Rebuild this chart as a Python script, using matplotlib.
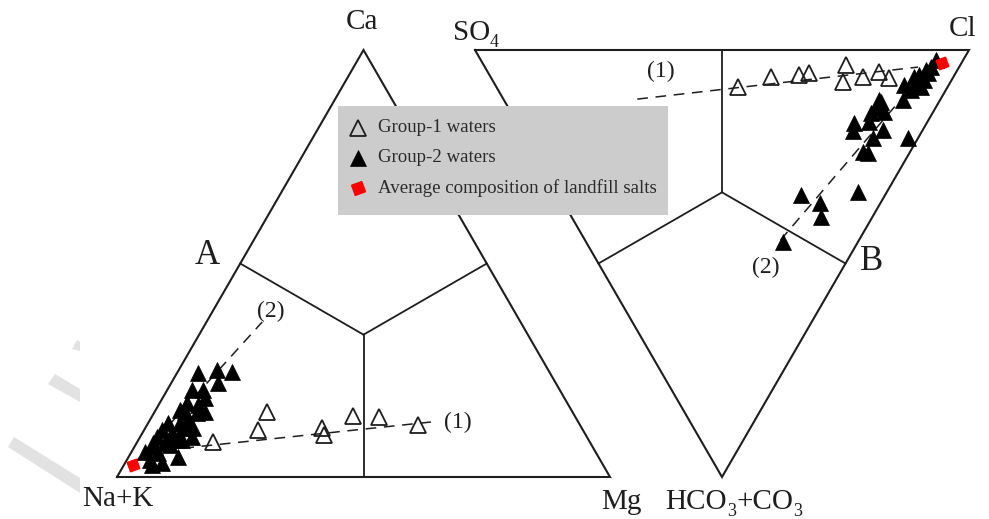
import matplotlib
matplotlib.use("Agg")
import matplotlib.pyplot as plt
from matplotlib.patches import Rectangle, Polygon

plt.rcParams['font.family'] = ['Liberation Serif', 'DejaVu Serif']

# ---------------- data (% meq/L) ----------------
# Cation triangle: Ca, Mg, Na+K
g1_cat_ca = [8.2, 15.2, 11.0, 11.5, 9.8, 14.3, 14.1, 12.2]
g1_cat_mg = [15.4, 22.8, 23.1, 35.8, 37.1, 40.7, 46.1, 55.0]
g1_cat_na = [76.4, 62.0, 65.9, 52.7, 53.1, 45.0, 39.8, 32.8]

g2_cat_ca = [24.4, 25.1, 24.6, 22.0, 20.4, 20.4, 18.5, 17.3, 16.9, 15.2, 15.0,
             12.6, 12.6, 11.5, 11.5, 9.4, 9.4, 11.0, 9.4, 8.0, 8.0, 8.7, 5.9,
             5.6, 4.0, 2.8, 3.3, 4.7, 8.7, 13.3, 10.3, 7.0, 7.5, 15.2, 15.7]
g2_cat_mg = [4.2, 7.7, 11.0, 9.5, 5.0, 7.2, 8.6, 5.5, 8.0, 6.2, 8.7,
             4.0, 6.5, 8.0, 9.7, 10.5, 7.7, 3.6, 3.4, 3.3, 5.7, 7.4, 2.7,
             5.5, 4.7, 5.7, 7.5, 10.0, 8.8, 7.8, 6.0, 4.2, 7.0, 10.2, 4.9]
g2_cat_na = [71.4, 67.2, 64.4, 68.5, 74.6, 72.4, 72.9, 77.2, 75.1, 78.6, 76.3,
             83.4, 80.9, 80.5, 78.8, 80.1, 82.9, 85.4, 87.2, 88.7, 86.3, 83.9, 91.4,
             88.9, 91.3, 91.5, 89.2, 85.3, 82.5, 78.9, 83.7, 88.8, 85.5, 74.6, 79.4]

salt_cat = {"Ca": 2.8, "Mg": 1.8, "Na+K": 95.4}

# Anion triangle: Cl, SO4, HCO3+CO3
g1_an_cl = [48.8, 56.7, 62.6, 64.9, 73.3, 70.7, 75.4, 79.1, 80.5]
g1_an_so4 = [42.5, 37.0, 31.5, 29.7, 23.2, 21.8, 18.3, 15.7, 12.9]
g1_an_hco3 = [8.7, 6.3, 5.9, 5.4, 3.5, 7.5, 6.3, 5.2, 6.6]

g2_an_cl = [92.2, 90.3, 88.9, 86.9, 87.4, 85.7, 85.4, 82.7, 83.5, 80.8, 75.9,
            74.3, 75.5, 72.7, 68.1, 67.0, 71.3, 70.2, 73.2, 77.3, 66.6, 67.5,
            48.9, 51.9, 50.4, 60.8, 39.8, 76.0, 89.0, 85.9]
g2_an_so4 = [5.5, 5.7, 6.4, 7.2, 5.6, 8.0, 6.9, 9.1, 7.1, 7.5, 12.4,
             12.1, 10.0, 12.5, 14.8, 14.0, 11.8, 9.2, 8.1, 2.1, 9.5, 8.4,
             17.1, 12.3, 10.5, 5.9, 15.2, 11.8, 5.6, 5.4]
g2_an_hco3 = [2.3, 4.0, 4.7, 5.9, 7.0, 6.3, 7.7, 8.2, 9.4, 11.7, 11.7,
              13.6, 14.5, 14.8, 17.1, 19.0, 16.9, 20.6, 18.7, 20.6, 23.9, 24.1,
              34.0, 35.8, 39.1, 33.3, 45.0, 12.2, 5.4, 8.7]

salt_an = {"Cl": 93.0, "SO4": 4.0, "HCO3+CO3": 3.0}

# Evolution trends (start, end) compositions
trend1_cat = {"Ca": [6.3, 12.9], "Mg": [6.6, 57.4]}
trend2_cat = {"Ca": [2.8, 36.3], "Mg": [1.8, 11.3]}
trend1_an = {"HCO3+CO3": [11.5, 4.0], "Cl": [27.1, 87.7]}
trend2_an = {"HCO3+CO3": [44.5, 2.8], "Cl": [39.6, 91.3]}

# ---------------- geometry (drawing coordinates) ----------------
V_NAK, V_MG, V_CA = (117.0, 477.0), (610.0, 477.0), (363.5, 50.0)
V_SO4, V_CL, V_HCO3 = (475.0, 50.0), (969.0, 50.0), (722.0, 477.0)


def ternary(a, b, c, va, vb, vc):
    xs, ys = [], []
    for p, q, r in zip(a, b, c):
        t = p + q + r
        xs.append((p * va[0] + q * vb[0] + r * vc[0]) / t)
        ys.append((p * va[1] + q * vb[1] + r * vc[1]) / t)
    return xs, ys


def cation_xy(ca, mg, na):
    return ternary(ca, mg, na, V_CA, V_MG, V_NAK)


def anion_xy(cl, so4, hco3):
    return ternary(cl, so4, hco3, V_CL, V_SO4, V_HCO3)


fig = plt.figure(figsize=(9.89, 5.19), dpi=100)
ax = fig.add_axes([0, 0, 1, 1])
ax.set_xlim(0, 989)
ax.set_ylim(519, 0)
ax.axis('off')
renderer = fig.canvas.get_renderer()

INK = '#1e1e1e'

# faint background stripes
for pts in [[(8, 447), (14, 437), (80, 478), (80, 493)],
            [(48, 384), (55, 374), (80, 389), (80, 402)],
            [(72, 349), (77, 340), (80, 342), (80, 351)]]:
    ax.add_patch(Polygon(pts, closed=True, facecolor='#e2e2e2',
                         edgecolor='none', zorder=0))


def draw_frame(v1, v2, v3):
    ax.plot([v1[0], v2[0], v3[0], v1[0]], [v1[1], v2[1], v3[1], v1[1]],
            color=INK, lw=1.5, zorder=1, solid_joinstyle='miter')
    cx = (v1[0] + v2[0] + v3[0]) / 3
    cy = (v1[1] + v2[1] + v3[1]) / 3
    for a, b in [(v1, v2), (v2, v3), (v3, v1)]:
        mx, my = (a[0] + b[0]) / 2, (a[1] + b[1]) / 2
        ax.plot([mx, cx], [my, cy], color=INK, lw=1.3, zorder=1)


draw_frame(V_NAK, V_MG, V_CA)
draw_frame(V_SO4, V_CL, V_HCO3)

# trend lines
dash_kw = dict(color=INK, lw=1.1, dashes=(7, 5), zorder=2)
for tr in (trend1_cat, trend2_cat):
    na = [100 - c - m for c, m in zip(tr["Ca"], tr["Mg"])]
    x, y = cation_xy(tr["Ca"], tr["Mg"], na)
    ax.plot(x, y, **dash_kw)
for tr in (trend1_an, trend2_an):
    so4 = [100 - h - c for h, c in zip(tr["HCO3+CO3"], tr["Cl"])]
    x, y = anion_xy(tr["Cl"], so4, tr["HCO3+CO3"])
    ax.plot(x, y, **dash_kw)

open_kw = dict(ls='none', marker='^', ms=11, mfc='none', mec=INK, mew=1.3, zorder=3)
fill_kw = dict(ls='none', marker='^', ms=11, mfc='black', mec='black', mew=0.5, zorder=4)
salt_kw = dict(ls='none', marker=(4, 0, -25), ms=10, mfc='#ff0000', mec='#ff0000', zorder=5)

x, y = cation_xy(g1_cat_ca, g1_cat_mg, g1_cat_na)
ax.plot(x, y, **open_kw)
x, y = cation_xy(g2_cat_ca, g2_cat_mg, g2_cat_na)
ax.plot(x, y, **fill_kw)
x, y = cation_xy([salt_cat["Ca"]], [salt_cat["Mg"]], [salt_cat["Na+K"]])
ax.plot(x, y, **salt_kw)

x, y = anion_xy(g1_an_cl, g1_an_so4, g1_an_hco3)
ax.plot(x, y, **open_kw)
x, y = anion_xy(g2_an_cl, g2_an_so4, g2_an_hco3)
ax.plot(x, y, **fill_kw)
x, y = anion_xy([salt_an["Cl"]], [salt_an["SO4"]], [salt_an["HCO3+CO3"]])
ax.plot(x, y, **salt_kw)


def chem_label(xc, baseline, pieces, size=21, sub_size=13, sub_drop=7):
    """Write a formula centred on xc; pieces are (text, is_subscript)."""
    arts = []
    for txt, sub in pieces:
        t = ax.text(0, baseline + (sub_drop if sub else 0), txt,
                    fontsize=sub_size if sub else size, color=INK,
                    ha='left', va='baseline')
        arts.append(t)
    widths = [a.get_window_extent(renderer).width for a in arts]
    x = xc - sum(widths) / 2
    for a, w in zip(arts, widths):
        a.set_x(x)
        x += w


# vertex labels
lab_kw = dict(fontsize=21, color=INK, ha='center', va='center')
ax.text(362, 22, 'Ca', **lab_kw)
ax.text(118, 499, 'Na+K', **lab_kw)
ax.text(621, 502, 'Mg', **lab_kw)
ax.text(963, 29, 'Cl', **lab_kw)
chem_label(476, 40, [('SO', False), ('4', True)])
chem_label(734, 509, [('HCO', False), ('3', True), ('+CO', False), ('3', True)])

ax.text(207, 255, 'A', fontsize=25, color=INK, ha='center', va='center')
ax.text(872, 261, 'B', fontsize=25, color=INK, ha='center', va='center')

tr_kw = dict(fontsize=17, color=INK, ha='center', va='center')
ax.text(458, 422, '(1)', **tr_kw)
ax.text(271, 311, '(2)', **tr_kw)
ax.text(661, 71, '(1)', **tr_kw)
ax.text(766, 267, '(2)', **tr_kw)

# legend panel
ax.add_patch(Rectangle((338, 106), 330, 109, facecolor='#cccccc',
                       edgecolor='none', zorder=6))
leg_rows = [('Group-1 waters', open_kw, 11), ('Group-2 waters', fill_kw, 11.5),
            ('Average composition of landfill salts', salt_kw, 11)]
for i, (label, kw, size) in enumerate(leg_rows):
    yy = 128 + 30 * i
    mk = dict(kw)
    mk['zorder'] = 7
    mk['ms'] = size
    ax.plot([358], [yy], **mk)
    ax.text(378, yy, label, fontsize=13.6, color='#2a2a2a', ha='left',
            va='center', zorder=7)

fig.savefig('out.png', dpi=100)
